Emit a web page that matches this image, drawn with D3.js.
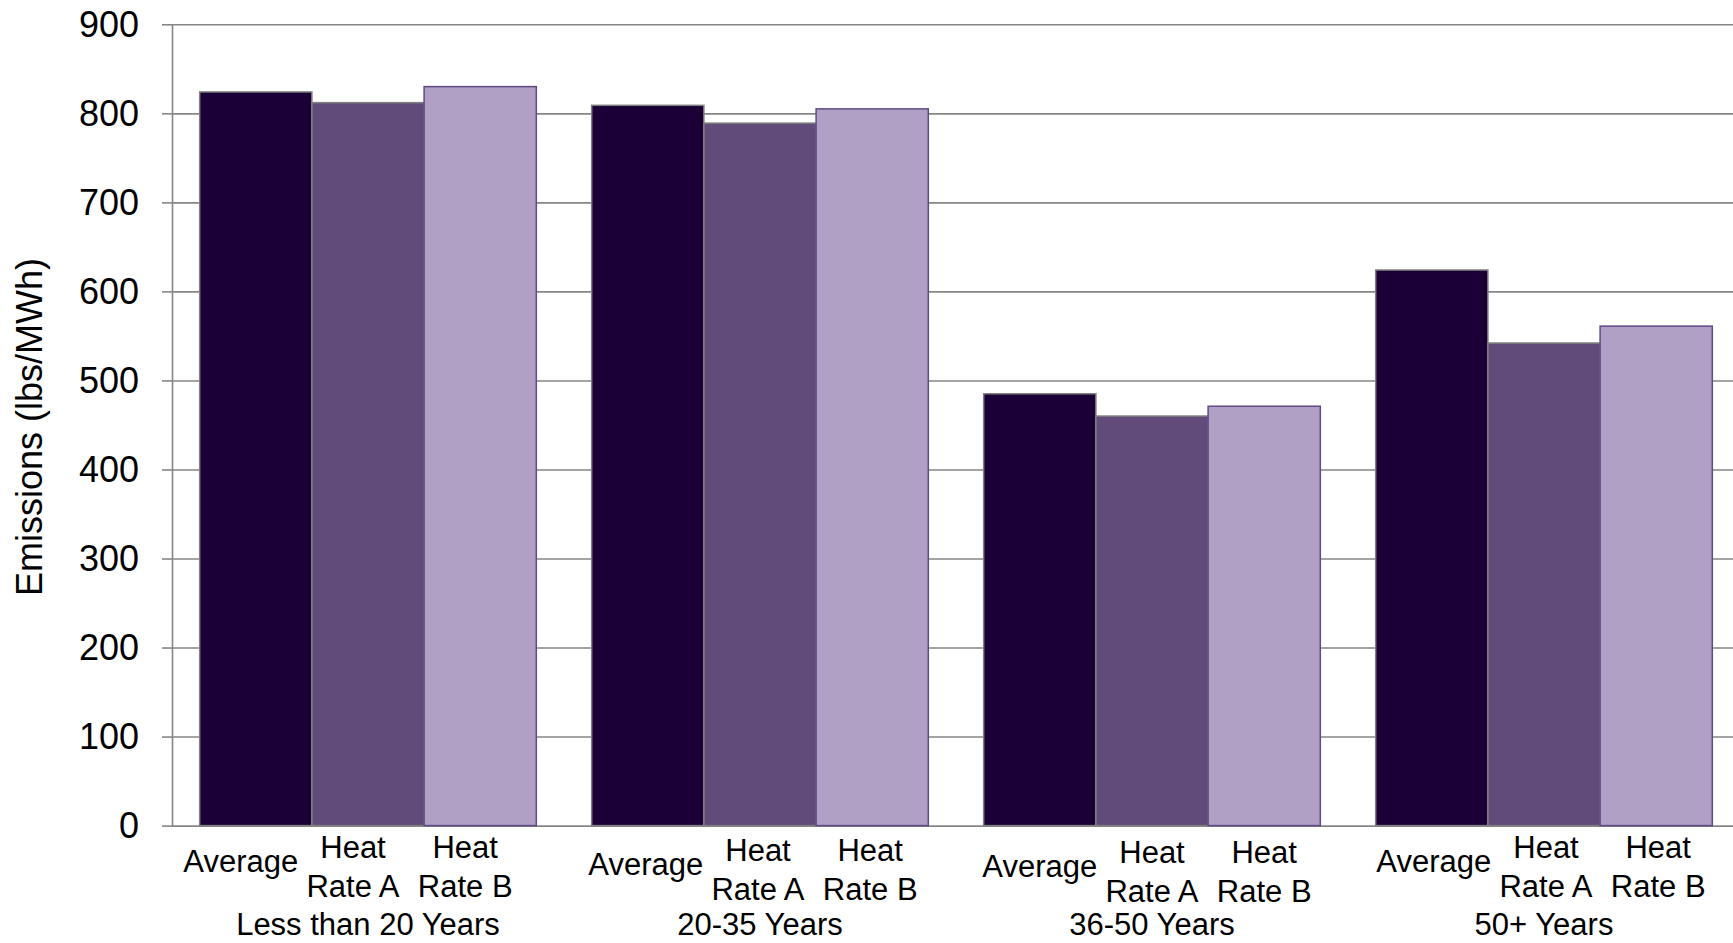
<!DOCTYPE html>
<html>
<head>
<meta charset="utf-8">
<script src="https://cdn.jsdelivr.net/npm/d3@7"></script>
<style>
  html, body { margin: 0; padding: 0; background: #ffffff; }
  svg { display: block; font-family: "Liberation Sans", Arial, sans-serif; }
</style>
</head>
<body>
<svg id="chart" width="1733" height="943"></svg>
<script>
// Plant age groups and the three emission-rate estimates
const groups = ["Less than 20 Years", "20-35 Years", "36-50 Years", "50+ Years"];
const series = ["Average", "Heat Rate A", "Heat Rate B"];
const seriesTickLines = [["Average"], ["Heat", "Rate A"], ["Heat", "Rate B"]];

// Emissions (lbs/MWh) per group, one array per series
const averageValues = [824, 809, 485, 624];
const heatRateAValues = [812, 789, 460, 542];
const heatRateBValues = [830, 805, 471, 561];

const yTicks = [0, 100, 200, 300, 400, 500, 600, 700, 800, 900];
const yTitle = "Emissions (lbs/MWh)";

const seriesFill = ["#1a0036", "#604b7b", "#b0a0c6"];
const seriesStroke = ["#7f7f7f", "#7f7f7f", "#5f4a86"];

const W = 1733, H = 943;
const plotLeft = 172, plotTop = 24.3, plotBottom = 825.6;
const plotRight = plotLeft + 4 * 392;

// Small per-group shifts of the category tick labels (x, y)
const labelShiftX = [-15, -2, 0, 2];
const labelShiftY = [0, 3, 5, 0];

const svg = d3.select("#chart");
svg.append("rect").attr("width", W).attr("height", H).attr("fill", "#ffffff");

const y = d3.scaleLinear().domain([0, 900]).range([plotBottom, plotTop]);

const pad = 0.1413;
const x0 = d3.scaleBand().domain(groups).range([plotLeft, plotRight])
  .paddingInner(pad).paddingOuter(pad / 2);
const x1 = d3.scaleBand().domain(series).range([0, x0.bandwidth()]).padding(0);

const valuesBySeries = [averageValues, heatRateAValues, heatRateBValues];
const rows = [];
groups.forEach((g, gi) => {
  series.forEach((s, si) => {
    rows.push({ group: g, gi, series: s, si, value: valuesBySeries[si][gi] });
  });
});

// Horizontal gridlines across the plot (to the page edge)
const grid = svg.append("g")
  .attr("transform", `translate(${plotLeft},0)`)
  .call(d3.axisLeft(y).tickValues(yTicks).tickSize(-(W - plotLeft)).tickFormat(""));
grid.select(".domain").remove();
grid.selectAll(".tick line").attr("stroke", "#868686").attr("stroke-width", 1.6);

// Bars
svg.append("g").selectAll("rect")
  .data(rows)
  .join("rect")
  .attr("x", d => x0(d.group) + x1(d.series))
  .attr("y", d => y(d.value))
  .attr("width", x1.bandwidth())
  .attr("height", d => y(0) - y(d.value))
  .attr("fill", d => seriesFill[d.si])
  .attr("stroke", d => seriesStroke[d.si])
  .attr("stroke-width", 1.5);

// Y axis with outward ticks and labels
const yAxis = svg.append("g")
  .attr("transform", `translate(${plotLeft},0)`)
  .call(d3.axisLeft(y).tickValues(yTicks).tickSize(10).tickSizeOuter(0).tickPadding(23));
yAxis.select(".domain").attr("stroke", "#868686").attr("stroke-width", 1.6);
yAxis.selectAll(".tick line").attr("stroke", "#868686").attr("stroke-width", 1.6);
yAxis.selectAll(".tick text")
  .attr("font-size", 36)
  .attr("fill", "#000")
  .attr("font-family", "Liberation Sans, Arial, sans-serif")
  .attr("dy", "0.34em");

// Y axis title
svg.append("text")
  .attr("transform", `translate(41.5,${(plotTop + plotBottom) / 2 + 2}) rotate(-90)`)
  .attr("text-anchor", "middle")
  .attr("font-size", 36)
  .attr("fill", "#000")
  .text(yTitle);

// Category labels: series name under each bar, age group below
const labels = svg.append("g").attr("font-size", 31).attr("fill", "#000").attr("text-anchor", "middle");
rows.forEach(d => {
  const cx = x0(d.group) + x1(d.series) + x1.bandwidth() / 2 + labelShiftX[d.gi];
  const dy = labelShiftY[d.gi];
  const lines = seriesTickLines[d.si];
  if (lines.length === 1) {
    labels.append("text").attr("x", cx).attr("y", 872 + dy).text(lines[0]);
  } else {
    labels.append("text").attr("x", cx).attr("y", 858 + dy).text(lines[0]);
    labels.append("text").attr("x", cx).attr("y", 896.5 + dy).text(lines[1]);
  }
});
groups.forEach(g => {
  labels.append("text")
    .attr("x", x0(g) + x0.bandwidth() / 2)
    .attr("y", 935)
    .text(g);
});
</script>
</body>
</html>
